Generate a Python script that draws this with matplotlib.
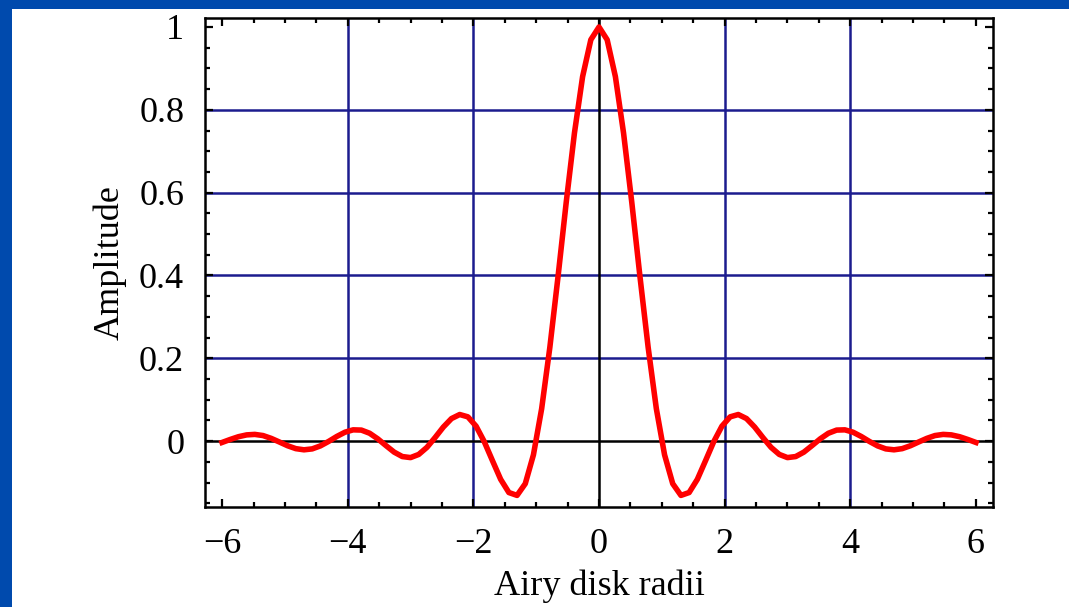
import matplotlib
matplotlib.use("Agg")
import matplotlib.pyplot as plt
from matplotlib.ticker import MultipleLocator, FixedLocator
from matplotlib.patches import Rectangle

# Data (Airy amplitude profile)
x_vals = [-6.003, -5.872, -5.742, -5.611, -5.481, -5.350, -5.220, -5.089, -4.959, -4.828,
          -4.698, -4.567, -4.437, -4.306, -4.176, -4.045, -3.915, -3.784, -3.653, -3.523,
          -3.392, -3.262, -3.132, -3.001, -2.871, -2.740, -2.610, -2.479, -2.349, -2.218,
          -2.088, -1.957, -1.827, -1.696, -1.566, -1.435, -1.305, -1.174, -1.044, -0.913,
          -0.783, -0.652, -0.522, -0.391, -0.261, -0.130, 0.000,
          0.130, 0.261, 0.391, 0.522, 0.652, 0.783, 0.913, 1.044, 1.174, 1.305,
          1.435, 1.566, 1.696, 1.827, 1.957, 2.088, 2.218, 2.349, 2.479, 2.610,
          2.740, 2.871, 3.001, 3.132, 3.262, 3.392, 3.523, 3.653, 3.784, 3.915,
          4.045, 4.176, 4.306, 4.437, 4.567, 4.698, 4.828, 4.959, 5.089, 5.220,
          5.350, 5.481, 5.611, 5.742, 5.872, 6.003]
amp_vals = [-0.0032, 0.0041, 0.0107, 0.0151, 0.0163, 0.0135, 0.0067, -0.0021, -0.0111, -0.0181,
            -0.0209, -0.0187, -0.0115, -0.0007, 0.0113, 0.0216, 0.0273, 0.0267, 0.0191, 0.0056,
            -0.0108, -0.0265, -0.0372, -0.0397, -0.0321, -0.0150, 0.0087, 0.0340, 0.0545, 0.0643,
            0.0587, 0.0361, -0.0013, -0.0473, -0.0922, -0.1241, -0.1310, -0.1027, -0.0330, 0.0785,
            0.2261, 0.3977, 0.5767, 0.7439, 0.8802, 0.9692, 1.0000,
            0.9692, 0.8802, 0.7439, 0.5767, 0.3977, 0.2261, 0.0785, -0.0330, -0.1027, -0.1310,
            -0.1241, -0.0922, -0.0473, -0.0013, 0.0361, 0.0587, 0.0643, 0.0545, 0.0340, 0.0087,
            -0.0150, -0.0321, -0.0397, -0.0372, -0.0265, -0.0108, 0.0056, 0.0191, 0.0267, 0.0273,
            0.0216, 0.0113, -0.0007, -0.0115, -0.0187, -0.0209, -0.0181, -0.0111, -0.0021, 0.0067,
            0.0135, 0.0163, 0.0151, 0.0107, 0.0041, -0.0032]
x_ticks = [-6, -4, -2, 0, 2, 4, 6]
x_ticklabels = ["\u22126", "\u22124", "\u22122", "0", "2", "4", "6"]
y_ticks = [0, 0.2, 0.4, 0.6, 0.8, 1]
y_ticklabels = ["0", "0.2", "0.4", "0.6", "0.8", "1"]
x_grid = [-4, -2, 2, 4]
y_grid = [0.2, 0.4, 0.6, 0.8]

plt.rcParams['font.family'] = ['Liberation Serif', 'DejaVu Serif']

fig = plt.figure(figsize=(10.69, 6.07), dpi=100)
fig.patch.set_facecolor('white')
border = '#004AAD'
fig.patches.append(Rectangle((0, 1 - 9 / 607), 1, 9 / 607, transform=fig.transFigure,
                             facecolor=border, edgecolor='none', zorder=0))
fig.patches.append(Rectangle((0, 0), 12 / 1069, 1, transform=fig.transFigure,
                             facecolor=border, edgecolor='none', zorder=0))

ax = fig.add_axes([205 / 1069, 1 - 507 / 607, (993 - 205) / 1069, (507 - 18) / 607])
ax.set_xlim(-6.274, 6.274)
ax.set_ylim(-0.159, 1.0217)

grid_col = '#1c1c8e'
for gx in x_grid:
    ax.axvline(gx, color=grid_col, lw=1.8, zorder=1)
for gy in y_grid:
    ax.axhline(gy, color=grid_col, lw=1.8, zorder=1)
ax.axvline(0, color='black', lw=1.8, zorder=1)
ax.axhline(0, color='black', lw=1.8, zorder=1)

ax.plot(x_vals, amp_vals, color='#ff0000', lw=4.0, zorder=3, solid_joinstyle='round')

ax.xaxis.set_major_locator(FixedLocator(x_ticks))
ax.set_xticklabels(x_ticklabels)
ax.xaxis.set_minor_locator(MultipleLocator(0.5))
ax.yaxis.set_major_locator(FixedLocator(y_ticks))
ax.set_yticklabels(y_ticklabels)
ax.yaxis.set_minor_locator(MultipleLocator(0.05))

ax.tick_params(which='both', direction='in', top=True, right=True, width=1.6, color='black')
ax.tick_params(which='major', length=6, labelsize=26)
ax.tick_params(axis='x', which='major', pad=15)
ax.tick_params(axis='y', which='major', pad=15)
ax.tick_params(which='minor', length=3.5)
for s in ax.spines.values():
    s.set_linewidth(1.8)
    s.set_color('black')

ax.set_xlabel('Airy disk radii', fontsize=26, labelpad=6)
ax.set_ylabel('Amplitude', fontsize=26, labelpad=9)

fig.savefig('out.png', dpi=100)
